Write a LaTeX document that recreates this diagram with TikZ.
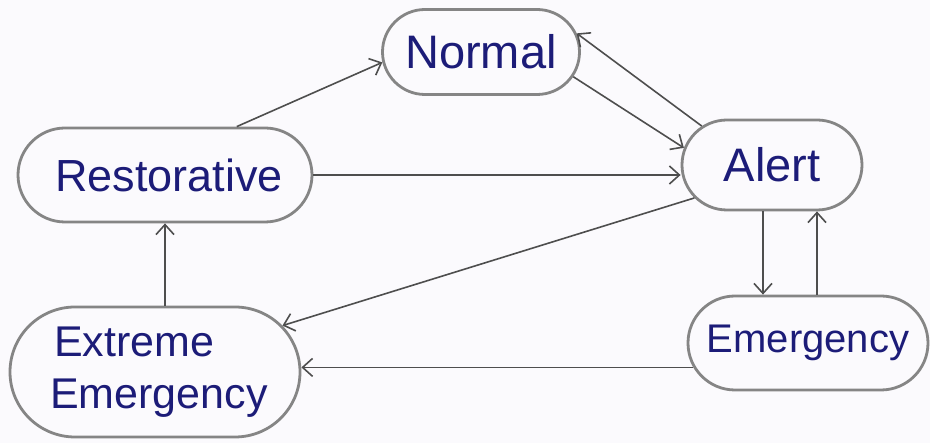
\documentclass[tikz,border=0pt]{standalone}
\usepackage{fontspec}
\setmainfont{Liberation Sans}
\usetikzlibrary{shapes.misc,arrows.meta}
\definecolor{ink}{HTML}{1C1C78}
\definecolor{pencil}{HTML}{858585}
\definecolor{arrowc}{HTML}{4E4E4E}
\definecolor{paper}{HTML}{FBFAFD}
\tikzset{
  state/.style={rounded rectangle, draw=pencil, line width=2.8pt, inner sep=0pt,
    text=ink, font=\fontsize{40}{50}\selectfont},
  arr/.style={draw=arrowc, line width=1.6pt, -{Straight Barb[length=10pt,width=18pt,line width=1.6pt]}}
}
\begin{document}
\begin{tikzpicture}[x=1pt,y=-1pt]
\fill[paper] (0,0) rectangle (930,443);
\useasboundingbox (0,0) rectangle (930,443);
\node[state, minimum width=197pt, minimum height=85pt, font=\fontsize{47}{50}\selectfont] (normal) at (481,52) {Normal};
\node[state, minimum width=294pt, minimum height=94pt, font=\fontsize{45}{50}\selectfont] (rest) at (165,175) {\hspace*{8pt}Restorative};
\node[state, minimum width=180pt, minimum height=90pt, font=\fontsize{47}{50}\selectfont] (alert) at (772,165) {Alert};
\node[state, minimum width=290pt, minimum height=130pt, align=left, font=\fontsize{43}{52}\selectfont] (ext) at (155,372) {\hspace*{12pt}Extreme\\\hspace*{8pt}Emergency};
\node[state, minimum width=240pt, minimum height=94pt] (emerg) at (808,343) {Emergency};
% connectors
\draw[arr] (rest.34) -- (normal.186);
\draw[arr] (normal.-15) -- (alert.169);
\draw[arr] (alert.151) -- (normal.11);
\draw[arr] (rest.east) -- (alert.west |- rest.east);
\draw[arr] (alert.203) -- (ext.20);
\draw[arr] ([xshift=-9pt]alert.south) -- ([xshift=-9pt]alert.south |- emerg.north);
\draw[arr] ([xshift=45pt]alert.south |- emerg.north) -- ([xshift=45pt]alert.south);
\draw[arr] (emerg.192) -- (emerg.192 -| ext.east);
\draw[arr] ([xshift=10pt]ext.north) -- (rest.south);
\end{tikzpicture}
\end{document}
